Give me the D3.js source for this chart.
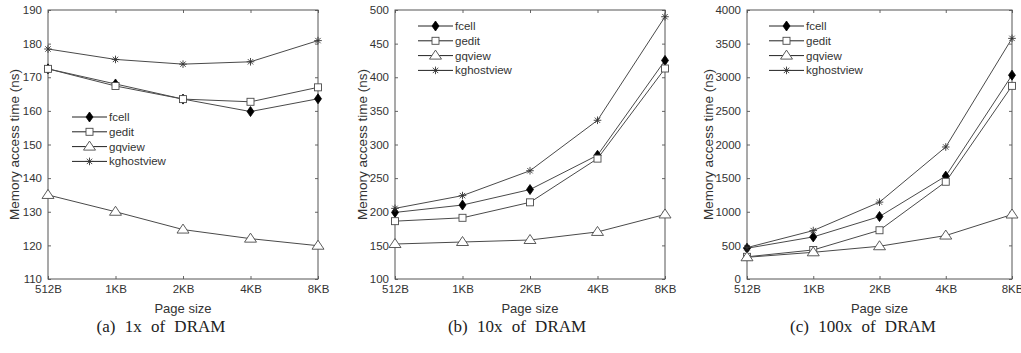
<!DOCTYPE html>
<html><head><meta charset="utf-8">
<script src="https://cdn.jsdelivr.net/npm/d3@7"></script>
<style>
body{margin:0;background:#fff;}
svg{display:block;}
</style></head>
<body>
<svg id="chart" width="1021" height="353"></svg>
<script>
const categories = ["512B","1KB","2KB","4KB","8KB"];
const seriesNames = ["fcell","gedit","gqview","kghostview"];
const markerTypes = ["diamond","square","triangle","asterisk"];

// Panel (a) 1x of DRAM
const fcellA = [172.5,168.0,163.5,159.8,163.6];
const geditA = [172.5,167.4,163.5,162.7,167.0];
const gqviewA = [135.0,130.0,124.7,122.0,119.9];
const kghostA = [178.4,175.3,173.9,174.6,180.9];
// Panel (b) 10x of DRAM
const fcellB = [199,210,233,284,425];
const geditB = [186,191,214,279,413];
const gqviewB = [152,155,158,170,196];
const kghostB = [205,224,261,336,490];
// Panel (c) 100x of DRAM
const fcellC = [457,626,929,1530,3031];
const geditC = [330,432,725,1446,2872];
const gqviewC = [323,397,487,646,959];
const kghostC = [467,720,1143,1963,3578];

const yDomainA = [110,190], yTicksA = [110,120,130,140,150,160,170,180,190];
const yDomainB = [100,500], yTicksB = [100,150,200,250,300,350,400,450,500];
const yDomainC = [0,4000], yTicksC = [0,500,1000,1500,2000,2500,3000,3500,4000];

const captions = ["(a) 1x of DRAM","(b) 10x of DRAM","(c) 100x of DRAM"];
const xLabel = "Page size";
const yLabel = "Memory access time (ns)";

const panels = [
  {series:[fcellA,geditA,gqviewA,kghostA], dom:yDomainA, ticks:yTicksA, x0:48, x1:318, lx:72, ly:117, cap:captions[0], capX:161, ylx:14},
  {series:[fcellB,geditB,gqviewB,kghostB], dom:yDomainB, ticks:yTicksB, x0:395, x1:665, lx:418, ly:26, cap:captions[1], capX:517, ylx:362},
  {series:[fcellC,geditC,gqviewC,kghostC], dom:yDomainC, ticks:yTicksC, x0:747, x1:1012, lx:769, ly:26, cap:captions[2], capX:863, ylx:708}
];
const plotTop = 10, plotBottom = 279;
const lineColor = "#4a4a4a";
const textColor = "#333";
const svg = d3.select("#chart");

function marker(g, type, x, y){
  if(type==="diamond"){
    g.append("path").attr("d",`M${x},${y-5}L${x+3.5},${y}L${x},${y+5}L${x-3.5},${y}Z`).attr("fill","#000").attr("stroke","#000").attr("stroke-width",0.8);
  } else if(type==="square"){
    g.append("rect").attr("x",x-3.5).attr("y",y-3.5).attr("width",7).attr("height",7).attr("fill","#fff").attr("stroke",lineColor).attr("stroke-width",0.9);
  } else if(type==="triangle"){
    g.append("path").attr("d",`M${x},${y-5.5}L${x+6},${y+3.5}L${x-6},${y+3.5}Z`).attr("fill","#fff").attr("stroke",lineColor).attr("stroke-width",0.9);
  } else {
    const r=3.8;
    for(let k=0;k<4;k++){
      const a=k*Math.PI/4;
      g.append("line").attr("x1",x-r*Math.cos(a)).attr("y1",y-r*Math.sin(a)).attr("x2",x+r*Math.cos(a)).attr("y2",y+r*Math.sin(a)).attr("stroke","#333").attr("stroke-width",0.9);
    }
  }
}

panels.forEach(p=>{
  const x = d3.scalePoint().domain(categories).range([p.x0,p.x1]).padding(0);
  const y = d3.scaleLinear().domain(p.dom).range([plotBottom,plotTop]);
  const g = svg.append("g");

  const ya = g.append("g").attr("transform",`translate(${p.x0},0)`)
    .call(d3.axisLeft(y).tickValues(p.ticks).tickSize(-3).tickPadding(6).tickFormat(d3.format("d")));
  const yr = g.append("g").attr("transform",`translate(${p.x1},0)`)
    .call(d3.axisRight(y).tickValues(p.ticks).tickSize(-3).tickFormat(""));
  const xa = g.append("g").attr("transform",`translate(0,${plotBottom})`)
    .call(d3.axisBottom(x).tickSize(-3).tickPadding(6));
  const xt = g.append("g").attr("transform",`translate(0,${plotTop})`)
    .call(d3.axisTop(x).tickSize(-3).tickFormat(""));
  [ya,yr,xa,xt].forEach(a=>{
    a.select(".domain").remove();
    a.selectAll("line").attr("stroke","#666");
    a.selectAll("text").attr("fill",textColor).style("font-family","'Liberation Sans', Arial, sans-serif").style("font-size","11.5px");
  });
  g.append("rect").attr("x",p.x0).attr("y",plotTop).attr("width",p.x1-p.x0).attr("height",plotBottom-plotTop)
    .attr("fill","none").attr("stroke","#555").attr("stroke-width",1);

  const line = d3.line().x((d,i)=>x(categories[i])).y(d=>y(d));
  p.series.forEach((s,si)=>{
    g.append("path").datum(s).attr("d",line).attr("fill","none").attr("stroke",lineColor).attr("stroke-width",1);
  });
  p.series.forEach((s,si)=>{
    s.forEach((v,i)=>marker(g,markerTypes[si],x(categories[i]),y(v)));
  });

  // legend
  const lg = g.append("g");
  seriesNames.forEach((n,si)=>{
    const yy = p.ly + si*14.8;
    lg.append("line").attr("x1",p.lx).attr("x2",p.lx+35).attr("y1",yy).attr("y2",yy).attr("stroke","#222").attr("stroke-width",1);
    marker(lg,markerTypes[si],p.lx+17.5,yy);
    lg.append("text").attr("x",p.lx+37).attr("y",yy).attr("dy","0.35em").text(n)
      .attr("fill",textColor).style("font-family","'Liberation Sans', Arial, sans-serif").style("font-size","11.5px");
  });

  g.append("text").attr("transform",`translate(${p.ylx},${(plotTop+plotBottom)/2}) rotate(-90)`)
    .attr("text-anchor","middle").attr("dy","0.35em").text(yLabel)
    .attr("fill",textColor).style("font-family","'Liberation Sans', Arial, sans-serif").style("font-size","13.5px");
  g.append("text").attr("x",(p.x0+p.x1)/2).attr("y",313).attr("text-anchor","middle").text(xLabel)
    .attr("fill",textColor).style("font-family","'Liberation Sans', Arial, sans-serif").style("font-size","13px");
  g.append("text").attr("x",p.capX).attr("y",332).attr("text-anchor","middle").text(p.cap)
    .attr("fill","#222").style("font-family","'Liberation Serif', 'DejaVu Serif', serif").style("font-size","17px").style("word-spacing","5px");
});
</script>
</body></html>
